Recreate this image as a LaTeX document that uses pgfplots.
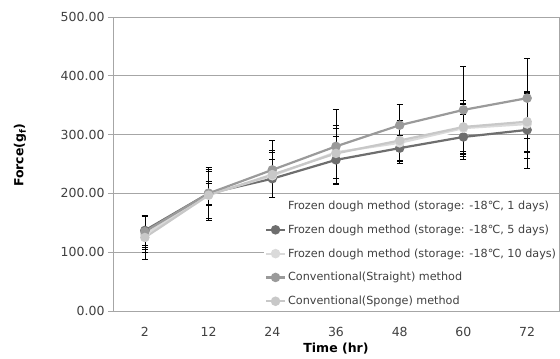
\documentclass[border=0pt]{standalone}
\usepackage{pgfplots}
\pgfplotsset{compat=1.18}
\usepackage{fontspec}
\setmainfont{DejaVu Sans}
\definecolor{cdark}{HTML}{6E6E6E}
\definecolor{cmid}{HTML}{9A9A9A}
\definecolor{clight}{HTML}{DADADA}
\definecolor{csponge}{HTML}{C8C8C8}
\definecolor{ctext}{HTML}{404040}
\pgfplotstableread{
x y e
0 133 28
1 200 45
2 228 45
3 265 50
4 283 32
5 308 45
6 315 55
}\sone
\pgfplotstableread{
x y e
0 137 25
1 200 18
2 225 33
3 257 40
4 277 22
5 296 38
6 308 65
}\stwo
\pgfplotstableread{
x y e
0 130 31
1 198 43
2 230 40
3 270 45
4 286 30
5 311 40
6 318 48
}\sthree
\pgfplotstableread{
x y e
0 135 27
1 200 20
2 240 50
3 280 63
4 316 35
5 342 75
6 362 68
}\sfour
\pgfplotstableread{
x y e
0 125 37
1 197 40
2 232 38
3 268 42
4 290 35
5 313 45
6 322 50
}\sfive
\begin{document}
\begin{tikzpicture}[x=1pt,y=1pt]
\begin{axis}[
  scale only axis, width=446pt, height=294pt,
  xmin=-0.5, xmax=6.5, ymin=0, ymax=500,
  xtick={0,...,6}, xticklabels={2,12,24,36,48,60,72},
  ytick={0,100,...,500},
  yticklabel={\pgfmathprintnumber[fixed,fixed zerofill,precision=2]{\tick}},
  /pgf/number format/assume math mode=true,
  ymajorgrids, grid style={draw=gray!70, line width=0.6pt},
  axis line style={draw=gray!70, line width=0.6pt},
  major x tick style={draw=none},
  major y tick style={draw=gray!70, line width=0.6pt},
  ytick pos=left, tick align=outside, major tick length=5pt,
  ticklabel style={font=\fontsize{12.5}{14}\selectfont, text=ctext},
  xticklabel style={yshift=-8pt},
  xlabel={\textbf{Time (hr)}}, ylabel={\textbf{Force(g\textsubscript{f})}},
  label style={font=\fontsize{12.5}{14}\selectfont},
  xlabel style={at={(axis description cs:0.5,0)}, anchor=center, yshift=-38pt},
  ylabel style={at={(axis description cs:0,0.53)}, anchor=center, xshift=0pt, yshift=93pt},
  legend style={at={(0.338,0.385)}, anchor=north west, draw=none, fill=white,
    font=\fontsize{11.2}{13}\selectfont, text=ctext, inner sep=1pt,
    row sep=9.8pt, legend cell align=left},
  legend image code/.code={\draw[mark repeat=2,mark phase=2,#1] plot coordinates {(0pt,0pt) (9.5pt,0pt) (19pt,0pt)};},
  error bars/y dir=both, error bars/y explicit,
  error bars/error bar style={black, line width=0.6pt},
  error bars/error mark options={black, rotate=90, mark size=3pt, line width=0.6pt},
  every axis plot/.append style={line width=2.2pt, mark=*, mark size=3.6pt},
]
\addplot[white, mark options={fill=white,draw=white}] table[x=x,y=y,y error=e]{\sone};
\addlegendentry{Frozen dough method (storage: -18℃, 1 days)}
\addplot[cdark, mark options={fill=cdark,draw=cdark}] table[x=x,y=y,y error=e]{\stwo};
\addlegendentry{Frozen dough method (storage: -18℃, 5 days)}
\addplot[clight, mark options={fill=clight,draw=clight}] table[x=x,y=y,y error=e]{\sthree};
\addlegendentry{Frozen dough method (storage: -18℃, 10 days)}
\addplot[cmid, mark options={fill=cmid,draw=cmid}] table[x=x,y=y,y error=e]{\sfour};
\addlegendentry{Conventional(Straight) method}
\addplot[csponge, mark options={fill=csponge,draw=csponge}] table[x=x,y=y,y error=e]{\sfive};
\addlegendentry{Conventional(Sponge) method}
\end{axis}
\pgfresetboundingbox
\useasboundingbox (-113pt,-48pt) rectangle (447pt,311pt);
\end{tikzpicture}
\end{document}
